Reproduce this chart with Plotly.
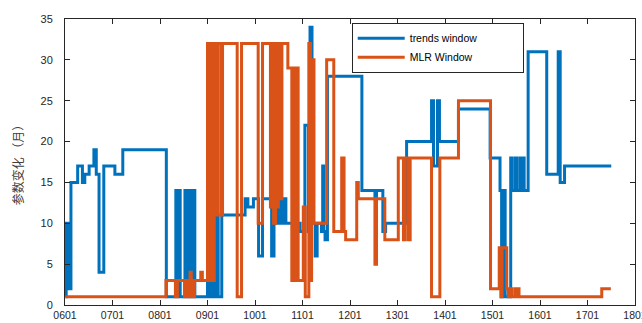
import plotly.graph_objects as go

# x positions in months since 2006-01 (0601)
tick_labels = ["0601", "0701", "0801", "0901", "1001", "1101", "1201",
               "1301", "1401", "1501", "1601", "1701", "1801"]
tick_months = [0, 12, 24, 36, 48, 60, 72, 84, 96, 108, 120, 132, 144]

trends_x = [0.1, 0.3, 0.9, 1.5, 3.2, 4.4, 5.0, 6.1, 7.3, 7.9, 8.6, 9.8, 12.6, 14.6,
            25.6, 28.0, 28.3, 28.8, 29.1, 30.3, 30.6, 30.9, 31.3, 31.7, 32.1, 32.5, 32.8,
            36.0, 36.6, 37.1, 37.5, 38.1, 38.7, 39.6, 45.5, 46.2, 47.6, 48.9, 49.9,
            52.2, 52.8, 53.5, 53.9, 54.4, 54.8, 55.3, 55.8, 59.4, 60.6, 61.5, 61.9,
            62.4, 63.2, 63.7, 64.8, 65.1, 65.4, 65.7, 66.3, 75.0, 78.3, 78.7, 80.3,
            81.0, 86.3, 92.6, 93.1, 94.1, 94.6, 99.4, 107.4, 109.9, 110.3, 110.6,
            111.2, 112.6, 113.0, 113.8, 114.1, 114.9, 115.2, 115.7, 116.0, 117.0,
            121.7, 124.6, 125.1, 126.2, 138.0]
trends_y = [1, 10, 2, 15, 17, 15, 16, 17, 19, 16, 4, 17, 16, 19,
            1, 14, 1, 14, 1, 14, 1, 14, 1, 14, 1, 14, 1,
            3, 1, 3, 1, 11, 1, 11, 13, 12, 13, 6, 13,
            6, 10, 13, 10, 13, 10, 13, 10, 9, 22, 9, 34,
            10, 6, 10, 9, 17, 9, 8, 28, 14, 13, 14, 9,
            10, 20, 25, 17, 25, 20, 24, 18, 14, 1, 14,
            1, 18, 14, 18, 14, 18, 14, 18, 14, 31,
            16, 31, 15, 17, 17]

mlr_x = [0.1, 25.5, 27.9, 28.4, 30.2, 30.8, 31.2, 31.6, 31.9, 32.2, 32.7, 34.3, 34.7,
         36.0, 36.3, 36.5, 36.9, 37.1, 37.5, 37.7, 38.4, 38.7, 39.5, 39.8, 43.5, 44.6,
         48.8, 49.9, 51.9, 52.3, 52.7, 53.2, 53.6, 53.9, 54.5, 54.8, 56.3, 57.3, 57.7,
         58.3, 58.6, 58.9, 60.2, 60.7, 61.6, 62.0, 62.3, 62.9, 66.1, 67.9, 69.9, 70.5,
         70.9, 73.7, 74.1, 78.3, 78.7, 80.8, 84.2, 85.5, 85.9, 86.7, 87.2, 92.6, 94.7,
         99.4, 107.5, 109.7, 110.1, 110.4, 111.6, 112.0, 112.5, 112.8, 113.6, 113.9,
         114.4, 114.7, 135.6, 137.9]
mlr_y = [1, 3, 1, 3, 1, 3, 1, 4, 3, 1, 3, 4, 3,
         32, 3, 32, 3, 32, 3, 32, 11, 32, 11, 32, 1, 32,
         10, 32, 12, 32, 10, 32, 12, 32, 13, 32, 29, 3, 29,
         3, 29, 3, 12, 1, 32, 3, 30, 10, 30, 9, 18, 9,
         8, 15, 13, 5, 13, 8, 18, 8, 18, 8, 18, 1, 18,
         25, 2, 7, 1, 7, 2, 1, 2, 1, 2, 1,
         2, 1, 2, 2]

PAD = "\u00a0" * 14
fig = go.Figure()
fig.add_trace(go.Scatter(x=trends_x, y=trends_y, mode="lines", name="trends window" + PAD,
                         line=dict(color="#0072BD", width=3, shape="hv")))
fig.add_trace(go.Scatter(x=mlr_x, y=mlr_y, mode="lines", name="MLR Window" + PAD,
                         line=dict(color="#D95319", width=3, shape="hv")))

axis_common = dict(showline=True, linecolor="#262626", linewidth=1, mirror="ticks",
                   ticks="inside", ticklen=5, tickcolor="#262626", showgrid=False,
                   zeroline=False, automargin=False)

fig.update_xaxes(range=[0, 144], tickvals=tick_months, ticktext=tick_labels,
                 ticklabelstandoff=0, ticklabeloverflow="allow",
                 tickfont=dict(family="Liberation Sans", size=10.5, color="#262626"),
                 **axis_common)
fig.update_yaxes(range=[0, 35], dtick=5, ticklabelstandoff=9,
                 tickfont=dict(family="Liberation Sans", size=11, color="#262626"),
                 **axis_common,
                 title=dict(text="参数变化 （月）", standoff=14,
                            font=dict(family="Noto Sans CJK SC", size=12, color="#404040")))

fig.update_layout(
    width=642, height=323,
    margin=dict(l=65, r=7, t=19, b=18),
    paper_bgcolor="white", plot_bgcolor="white",
    showlegend=True,
    legend=dict(x=0.503, y=0.987, xanchor="left", yanchor="top",
                bgcolor="white", bordercolor="#262626", borderwidth=1,
                font=dict(family="Liberation Sans", size=10.5, color="#000000"),
                tracegroupgap=0, itemwidth=47),
)

fig.write_html("out.html")
